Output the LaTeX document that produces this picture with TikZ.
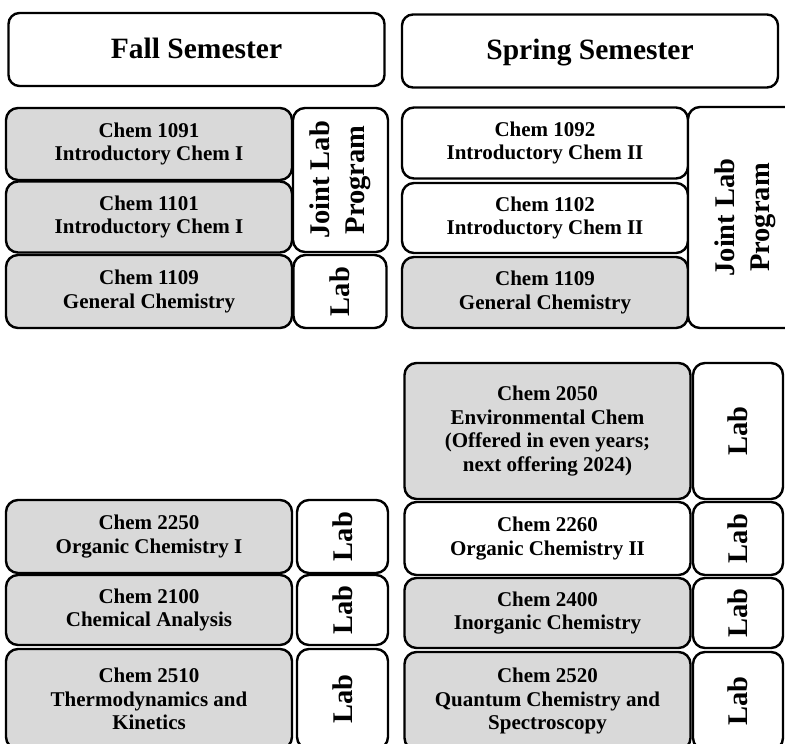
\documentclass[tikz,border=0pt]{standalone}
\usepackage{fontspec}
\setmainfont{Liberation Serif}
\definecolor{coursegray}{HTML}{D9D9D9}

\begin{document}
\begin{tikzpicture}[x=1pt, y=-1pt, line width=2.4pt,
    semester/.style={draw, rectangle, rounded corners=11pt, fill=white, minimum width=376pt, minimum height=73pt, inner sep=0pt, text height=20pt, text depth=3pt, font=\fontsize{29.5}{35}\selectfont\bfseries},
    course/.style={draw, rectangle, rounded corners=12pt, fill=coursegray, minimum width=286pt, inner sep=0pt, align=center, font=\fontsize{21}{23.5}\selectfont\bfseries},
    labbox/.style={draw, rectangle, rounded corners=12pt, fill=white, rotate=90, inner sep=0pt, align=center, font=\fontsize{28.5}{35}\selectfont\bfseries}]

    % Frame of the picture
    \useasboundingbox (0, 0) rectangle (785, 744);
    \clip (0, 0) rectangle (785, 744);

    % Semester headers
    \node at (196.5, 49.5) (fall) [semester] {Fall Semester};
    \node at (590, 51) (spring) [semester] {Spring Semester};

    % Nodes for the first year, fall
    \node at (149, 144) (c1091) [course, minimum height=72pt] {Chem 1091\\Introductory Chem I};
    \node at (149, 217) (c1101) [course, minimum height=71pt] {Chem 1101\\Introductory Chem I};
    \node at (149, 291.5) (c1109f) [course, minimum height=73pt] {Chem 1109\\General Chemistry};
    \node at (340.5, 180) (jointf) [labbox, minimum width=144pt, minimum height=95pt] {Joint Lab\\Program};
    \node at (340, 291.5) (lab1109) [labbox, minimum width=73pt, minimum height=93pt] {Lab};

    % Nodes for the first year, spring
    \node at (545, 143) (c1092) [course, fill=white, minimum height=71pt] {Chem 1092\\Introductory Chem II};
    \node at (545, 218) (c1102) [course, fill=white, minimum height=70pt] {Chem 1102\\Introductory Chem II};
    \node at (545, 292.5) (c1109s) [course, minimum height=71pt] {Chem 1109\\General Chemistry};
    \node at (745, 217.5) (joints) [labbox, minimum width=221pt, minimum height=114pt] {Joint Lab\\Program};

    % Nodes for the second year, fall
    \node at (149, 536.5) (c2250) [course, minimum height=73pt] {Chem 2250\\Organic Chemistry I};
    \node at (342.5, 536.5) (lab2250) [labbox, minimum width=73pt, minimum height=91pt] {Lab};
    \node at (149, 610) (c2100) [course, minimum height=70pt] {Chem 2100\\Chemical Analysis};
    \node at (342.5, 610) (lab2100) [labbox, minimum width=70pt, minimum height=91pt] {Lab};
    \node at (149, 699) (c2510) [course, minimum height=100pt] {Chem 2510\\Thermodynamics and\\Kinetics};
    \node at (342.5, 699) (lab2510) [labbox, minimum width=100pt, minimum height=91pt] {Lab};

    % Nodes for the second year, spring
    \node at (547.5, 431) (c2050) [course, minimum height=136pt] {Chem 2050\\Environmental Chem\\(Offered in even years;\\next offering 2024)};
    \node at (738, 431) (lab2050) [labbox, minimum width=136pt, minimum height=90pt] {Lab};
    \node at (547.5, 538.5) (c2260) [course, fill=white, minimum height=73pt] {Chem 2260\\Organic Chemistry II};
    \node at (738, 538.5) (lab2260) [labbox, minimum width=73pt, minimum height=90pt] {Lab};
    \node at (547.5, 613) (c2400) [course, minimum height=70pt] {Chem 2400\\Inorganic Chemistry};
    \node at (738, 613) (lab2400) [labbox, minimum width=70pt, minimum height=90pt] {Lab};
    \node at (547.5, 701) (c2520) [course, minimum height=98pt] {Chem 2520\\Quantum Chemistry and\\Spectroscopy};
    \node at (738, 701) (lab2520) [labbox, minimum width=98pt, minimum height=90pt] {Lab};

\end{tikzpicture}
\end{document}
